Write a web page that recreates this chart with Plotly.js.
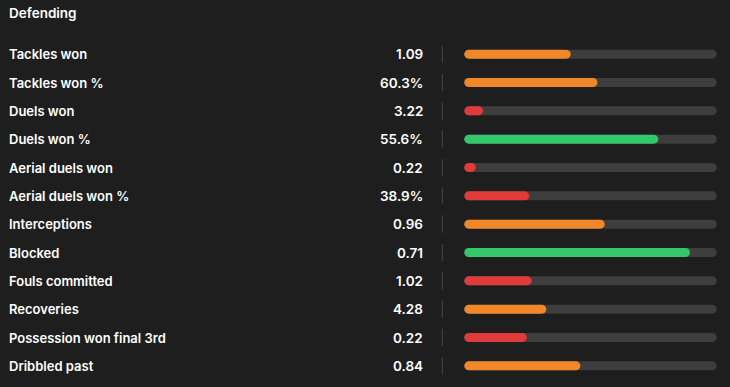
<!DOCTYPE html>
<html>
<head>
<meta charset="utf-8">
<script src="https://cdn.plot.ly/plotly-3.0.1.min.js"></script>
<style>
html,body{margin:0;padding:0;background:#1e1e1e;}
#chart{width:730px;height:387px;}
#chart .scatterlayer path.js-line{stroke-linecap:round !important;}
</style>
</head>
<body>
<div id="chart"></div>
<script>
// Data
const sectionTitle = "Defending";
const statNames = ["Tackles won","Tackles won %","Duels won","Duels won %","Aerial duels won","Aerial duels won %","Interceptions","Blocked","Fouls committed","Recoveries","Possession won final 3rd","Dribbled past"];
const statValues = ["1.09","60.3%","3.22","55.6%","0.22","38.9%","0.96","0.71","1.02","4.28","0.22","0.84"];
const percentiles = [40,51,4,76,1,23,54,89,24,30,22,44];
const trackMax = 100;

function colorFor(p){
  if(p < 28) return "#e03a3a";
  if(p < 70) return "#f0882a";
  return "#34c66b";
}

const FONT = "Inter, 'Open Sans', sans-serif";
const n = statNames.length;
const idx = statNames.map((_, i) => i);
const LW = 9;

// Track: one trace, segments separated by null
const tx = [], ty = [];
idx.forEach(i => { tx.push(0, trackMax, null); ty.push(i, i, null); });
const traces = [{
  type: "scatter", mode: "lines", x: tx, y: ty,
  line: {color: "#3e3e3e", width: LW}, hoverinfo: "skip", showlegend: false
}];
// Fills: one trace per row (colour depends on percentile)
idx.forEach(i => {
  traces.push({
    type: "scatter", mode: "lines", x: [0, percentiles[i]], y: [i, i],
    line: {color: colorFor(percentiles[i]), width: LW}, hoverinfo: "skip", showlegend: false
  });
});

const annotations = [];
statNames.forEach((name, i) => {
  annotations.push({xref: "paper", yref: "y", x: -1.806, y: i, xanchor: "left", yanchor: "middle",
    text: name, showarrow: false, font: {family: FONT, size: 13, color: "#ffffff", weight: 600}});
  annotations.push({xref: "paper", yref: "y", x: -0.156, y: i, xanchor: "right", yanchor: "middle",
    text: statValues[i], showarrow: false, font: {family: FONT, size: 13.5, color: "#ffffff", weight: 600}});
});

const shapes = idx.map(i => ({
  type: "line", xref: "paper", yref: "y", x0: -0.0856, x1: -0.0856, y0: i - 0.3, y1: i + 0.3,
  line: {color: "#464646", width: 1}
}));

const layout = {
  width: 730, height: 387,
  paper_bgcolor: "#1e1e1e", plot_bgcolor: "#1e1e1e",
  margin: {l: 464, r: 13, t: 40, b: 7},
  title: {text: sectionTitle, x: 9/730, xanchor: "left", y: 1 - 13/387, yanchor: "middle",
    xref: "container", yref: "container",
    font: {family: FONT, size: 13.5, color: "#ffffff", weight: 600}},
  xaxis: {range: [-1.97, 101.97], visible: false, fixedrange: true},
  yaxis: {range: [n - 0.5, -0.5], visible: false, fixedrange: true},
  annotations: annotations,
  shapes: shapes,
  showlegend: false
};

Plotly.newPlot("chart", traces, layout, {displayModeBar: false, staticPlot: true});
</script>
</body>
</html>
